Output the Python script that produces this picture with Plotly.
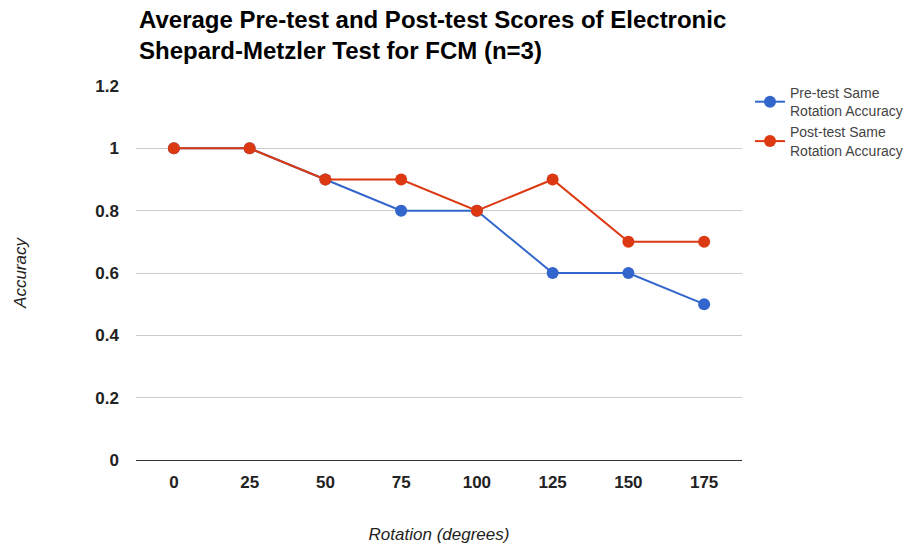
import plotly.graph_objects as go

# Rotation angles (degrees) and average accuracy per angle
rotations = ["0", "25", "50", "75", "100", "125", "150", "175"]
pre_test = [1.0, 1.0, 0.9, 0.8, 0.8, 0.6, 0.6, 0.5]
post_test = [1.0, 1.0, 0.9, 0.9, 0.8, 0.9, 0.7, 0.7]
y_ticks = [0, 0.2, 0.4, 0.6, 0.8, 1.0, 1.2]
y_tick_labels = ["0", "0.2", "0.4", "0.6", "0.8", "1", "1.2"]

FONT = "Liberation Sans, Arial, sans-serif"
W, H = 908, 547
L, R, T, B = 136, 166, 86, 87

fig = go.Figure()
fig.add_trace(go.Scatter(
    x=rotations, y=pre_test, mode="lines+markers",
    name="Pre-test Same<br>Rotation Accuracy",
    line=dict(color="#3366cc", width=2),
    marker=dict(color="#3366cc", size=12),
))
fig.add_trace(go.Scatter(
    x=rotations, y=post_test, mode="lines+markers",
    name="Post-test Same<br>Rotation Accuracy",
    line=dict(color="#dc3912", width=2),
    marker=dict(color="#dc3912", size=12),
))

plot_h = H - T - B
fig.add_annotation(
    text="<b>Average Pre-test and Post-test Scores of Electronic<br>Shepard-Metzler Test for FCM (n=3)</b>",
    xref="paper", yref="paper", x=1 / (W - L - R), y=1 + (T - 4) / plot_h,
    xanchor="left", yanchor="top", align="left", showarrow=False,
    font=dict(size=24, color="#000000", family=FONT),
)

fig.update_layout(
    width=W, height=H,
    margin=dict(l=L, r=R, t=T, b=B, autoexpand=False),
    paper_bgcolor="white", plot_bgcolor="white",
    font=dict(family=FONT, color="#222222"),
    legend=dict(
        xref="container", yref="container",
        x=750 / W, y=1 - 77 / H, xanchor="left", yanchor="top",
        font=dict(size=14, color="#444444"),
        tracegroupgap=7,
    ),
    showlegend=True,
)

fig.update_xaxes(
    type="category", range=[-0.5, 7.5],
    showgrid=False, zeroline=False, showline=False,
    tickvals=rotations, ticktext=[f"<b>{r}</b>" for r in rotations],
    tickfont=dict(size=17, color="#222222", family=FONT),
    ticklabelstandoff=10,
    title=dict(text="<i>Rotation (degrees)</i>", font=dict(size=17, color="#222222"), standoff=37),
)

fig.update_yaxes(
    range=[0, 1.2], tickvals=y_ticks, ticktext=[f"<b>{t}</b>" for t in y_tick_labels],
    showgrid=True, gridcolor="#cccccc", gridwidth=1,
    zeroline=True, zerolinecolor="#333333", zerolinewidth=1,
    tickfont=dict(size=17, color="#222222", family=FONT),
    ticklabelstandoff=16,
    title=dict(text="<i>Accuracy</i>", font=dict(size=17, color="#222222"), standoff=64),
)

fig.write_html("out.html")
